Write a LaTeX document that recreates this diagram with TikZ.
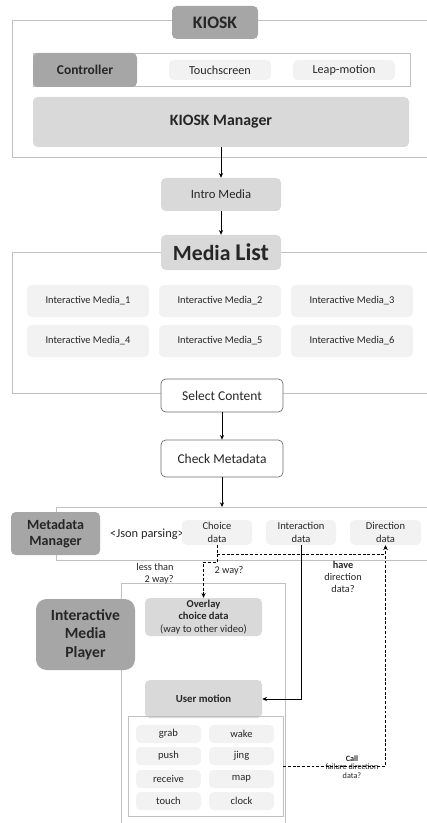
\documentclass[tikz,border=0pt]{standalone}
\usepackage{fontspec}
\setmainfont{Carlito}
\usetikzlibrary{arrows.meta}

\definecolor{darkbox}{HTML}{A6A6A6}
\definecolor{midbox}{HTML}{D9D9D9}
\definecolor{lightbox}{HTML}{F2F2F2}
\definecolor{frameline}{HTML}{C0C0C0}
\definecolor{stepline}{HTML}{6E6E6E}
\definecolor{inkc}{HTML}{262626}

\tikzset{
  corners/.style n args={4}{minimum width={(#3-#1)*0.03cm}, minimum height={(#4-#2)*0.03cm},
    at={({(#1+#3)/2},{(#2+#4)/2})}},
  frame/.style={draw=frameline, line width=0.7pt},
  box/.style={inner sep=0pt, rounded corners=4pt, align=center, text=inkc,
    font=\fontsize{9}{11}\selectfont},
  darkfill/.style={box, fill=darkbox, font=\bfseries\fontsize{12}{13.5}\selectfont},
  midfill/.style={box, fill=midbox},
  lightfill/.style={box, fill=lightbox},
  stepbox/.style={box, fill=white, draw=stepline, line width=0.6pt,
    font=\fontsize{11.5}{13}\selectfont},
  note/.style={align=center, inner sep=0pt, text=inkc, font=\fontsize{8.8}{10.5}\selectfont},
  flow/.style={-{Stealth[length=4pt,width=3.5pt]}, line width=0.8pt},
  dashflow/.style={flow, dash pattern=on 2.5pt off 1.5pt},
}

\begin{document}
\begin{tikzpicture}[x=0.03cm, y=-0.03cm]
\useasboundingbox (0,0) rectangle (427,823);

% KIOSK block
\draw[frame] (427,20) -- (12,20) -- (12,157) -- (427,157);
\draw[frame] (33,53) rectangle (410,86);
\node[darkfill, font=\bfseries\fontsize{15}{17}\selectfont, corners={172}{6}{258}{39}] (kiosk) {KIOSK};
\node[darkfill, font=\bfseries\fontsize{11.5}{13}\selectfont, corners={33}{53}{137}{87}] (controller) {Controller};
\node[lightfill, font=\fontsize{10.4}{12}\selectfont, corners={169}{60}{271}{80}] (touch) {Touchscreen};
\node[lightfill, font=\fontsize{10.4}{12}\selectfont, corners={293}{60}{395}{80}] (leap) {Leap-motion};
\node[midfill, font=\bfseries\fontsize{13.5}{15}\selectfont, corners={33}{97}{409}{147}] (manager) {KIOSK Manager};

\node[midfill, font=\fontsize{10.8}{12}\selectfont, corners={161}{178}{281}{211}] (intro) {Intro Media};

% media list
\draw[frame] (427,252) -- (12,252) -- (12,393) -- (427,393);
\node[midfill, font=\bfseries\fontsize{18.5}{20}\selectfont, corners={161}{235}{281}{270}] (medialist) {Media {\fontsize{20.5}{22}\selectfont List}};
\foreach \n/\xa/\ya in {1/27/285, 2/159/285, 3/291/285, 4/27/325, 5/159/325, 6/291/325}
  \node[lightfill, font=\fontsize{8.9}{10}\selectfont, corners={\xa}{\ya}{\xa+122}{\ya+32}] (media\n) {Interactive Media\_\n};

\node[stepbox, corners={161}{379}{283}{412}] (select) {Select Content};
\node[stepbox, corners={161}{440}{283}{477}] (check) {Check Metadata};

% metadata
\draw[frame] (427,507) -- (56,507) -- (56,560) -- (427,560);
\node[darkfill, corners={11}{512}{100}{555}] (metamanager) {Metadata\\Manager};
\node[note, font=\fontsize{10.6}{12}\selectfont] (json) at (147,534) {<Json parsing>};
\node[lightfill, corners={182}{520}{252}{545}] (choice) {Choice\\data};
\node[lightfill, corners={266}{520}{336}{545}] (interaction) {Interaction\\data};
\node[lightfill, corners={350}{520}{421}{545}] (direction) {Direction\\data};

% player
\draw[frame] (121,823) -- (121,583) -- (285,583) -- (285,823);
\node[darkfill, rounded corners=9pt, font=\bfseries\fontsize{13.3}{16}\selectfont, corners={36}{599}{135}{670}] (player) {Interactive\\Media\\Player};
\node[midfill, font=\fontsize{9}{10.8}\selectfont, corners={145}{598}{262}{636}] (overlay) {\textbf{Overlay}\\\textbf{choice data}\\(way to other video)};
\node[midfill, font=\bfseries\fontsize{9.2}{11}\selectfont, corners={145}{680}{262}{718}] (motion) {User motion};
\node[frame, inner sep=0pt, corners={128}{716}{283}{816}] (gestures) {};
\foreach \lab/\xa/\ya in {grab/136/725, wake/209/725, push/136/747, jing/209/747,
    receive/136/770, map/209/770, touch/136/792, clock/209/792}
  \node[lightfill, corners={\xa}{\ya}{\xa+65}{\ya+18}] (g-\lab) {\lab};

% labels
\node[note, align=right] (lessthan) at (155,574) {less than\\2 way?};
\node[note] (twoway) at (229,571) {2 way?};
\node[note] (havedir) at (343,577) {\textbf{have}\\direction\\data?};
\node[note, font=\fontsize{7}{7.5}\selectfont] (callfail) at (352,767) {\textbf{Call}\\failure direction\\data?};

% connectors
\draw[flow] (manager) -- (intro);
\draw[flow] (intro) -- (medialist);
\draw[flow] (select) -- (check);
\draw[flow] (check.south) -- (check.south |- 0,507);
\path (choice.south) ++(0,9) coordinate (split);
\draw[dashflow] (choice.south) -- (split) -| (direction.south);
\draw[dashflow] (split) -- ++(0,8) -| (overlay.north);
\draw[flow] (interaction.south) |- (motion.east);
\draw[dashflow] (gestures.east) -| (direction.south);
\end{tikzpicture}
\end{document}
